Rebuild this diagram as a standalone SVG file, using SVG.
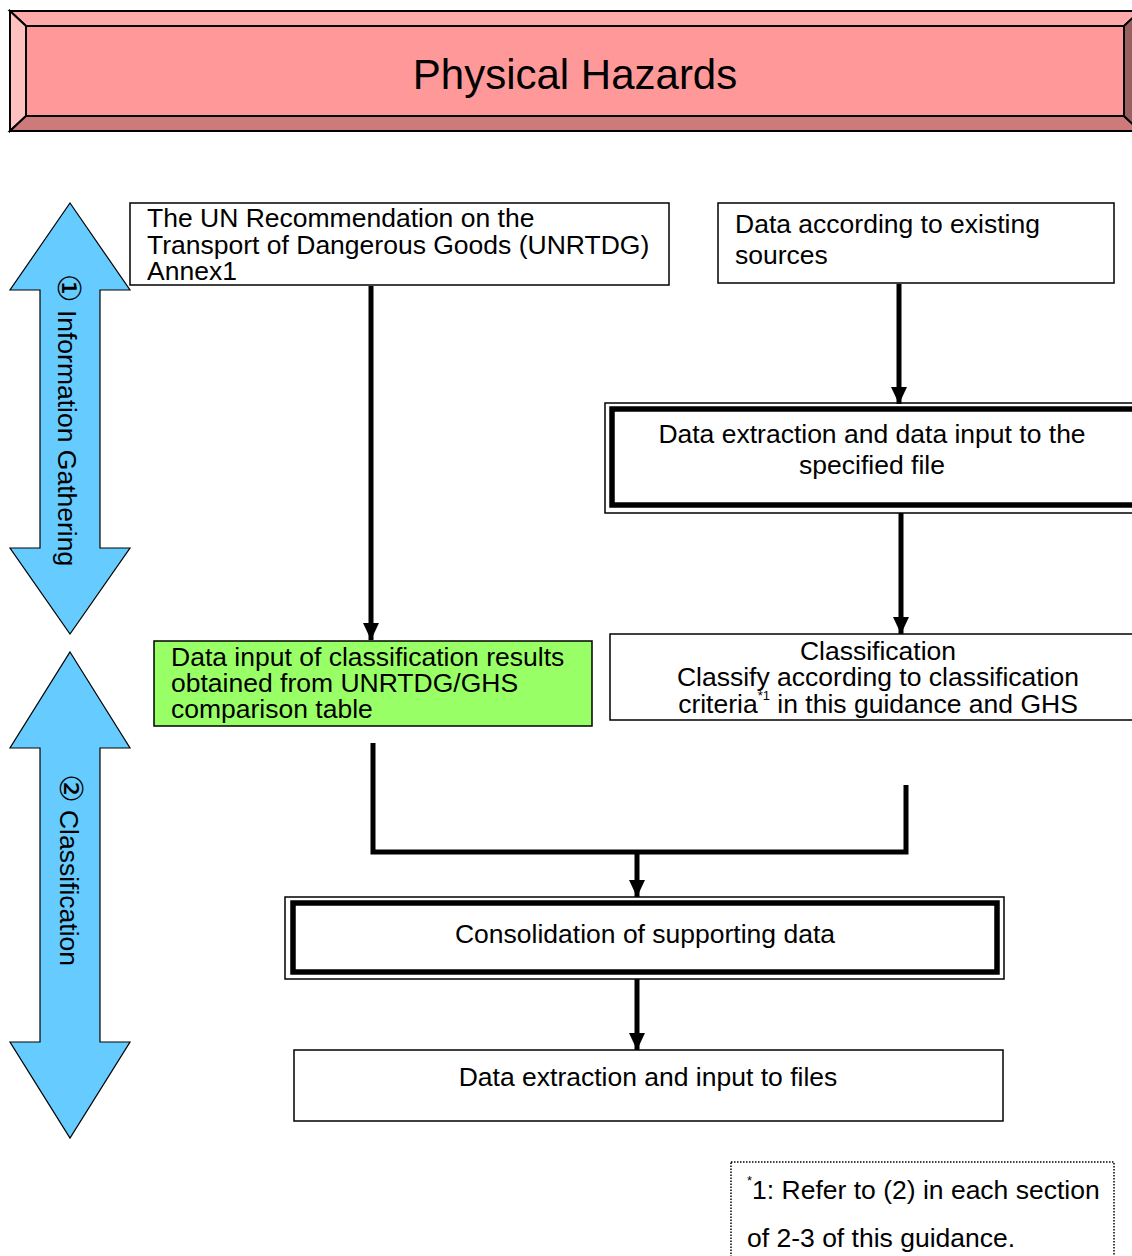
<svg xmlns="http://www.w3.org/2000/svg" width="1132" height="1256" viewBox="0 0 1132 1256">
  <defs>
    <style>
      text { font-family: "Liberation Sans", Arial, "Noto Sans CJK JP", sans-serif; font-size: 26.5px; fill: #000; }
      .box { fill: #fff; stroke: #000; stroke-width: 1.5; }
      .thin { fill: none; stroke: #000; stroke-width: 1.5; }
      .thick { fill: #fff; stroke: #000; stroke-width: 5.5; }
      .bevel { stroke: #000; stroke-width: 2; stroke-linejoin: miter; }
      .phase { fill: #66CCFF; stroke: #000; stroke-width: 1.2; }
      .wire { fill: none; stroke: #000; stroke-width: 5; stroke-linejoin: miter; stroke-linecap: butt; }
      .mid { text-anchor: middle; }
      .sup { font-size: 13px; }
      .num { font-family: "DejaVu Sans", "Noto Sans CJK JP", sans-serif; font-size: 32px; }
    </style>
    <!-- arrowhead drawn along +x so orient="auto" turns it with the line -->
    <marker id="head" viewBox="0 0 17 16" refX="17" refY="8" markerWidth="17" markerHeight="16" markerUnits="userSpaceOnUse" orient="auto">
      <path d="M0,0 L17,8 L0,16 Z" fill="#000"/>
    </marker>
  </defs>

  <!-- bevelled title banner -->
  <g id="title">
    <rect x="26" y="26" width="1098" height="90" fill="#FF9999" class="bevel"/>
    <polygon class="bevel" fill="#FFAAAA" points="10,11 1140,11 1124,26 26,26"/>
    <polygon class="bevel" fill="#FFC0C0" points="10,11 26,26 26,116 10,131"/>
    <polygon class="bevel" fill="#CC7A7A" points="10,131 26,116 1124,116 1140,131"/>
    <polygon class="bevel" fill="#996060" points="1140,11 1124,26 1124,116 1140,131"/>
    <text x="575" y="89" class="mid" style="font-size:42px">Physical Hazards</text>
  </g>

  <!-- phase arrows -->
  <g id="phase-info">
    <polygon class="phase" points="70,203 130,290 100,290 100,548 130,548 70,634 10,548 40,548 40,290 10,290"/>
    <text transform="translate(58,420) rotate(90)" class="mid"><tspan class="num">①</tspan> Information Gathering</text>
  </g>
  <g id="phase-class">
    <polygon class="phase" points="70,652 130,748 100,748 100,1042 130,1042 70,1138 10,1042 40,1042 40,748 10,748"/>
    <text transform="translate(60,870) rotate(90)" class="mid"><tspan class="num">②</tspan> Classification</text>
  </g>

  <!-- connectors -->
  <g id="connectors">
    <path class="wire" d="M371,286 V640" marker-end="url(#head)"/>
    <path class="wire" d="M899,284 V404" marker-end="url(#head)"/>
    <path class="wire" d="M901,513 V634" marker-end="url(#head)"/>
    <path class="wire" d="M373,743 V852 H906 V785"/>
    <path class="wire" d="M637,852 V897" marker-end="url(#head)"/>
    <path class="wire" d="M637,979 V1050" marker-end="url(#head)"/>
  </g>

  <g id="unrtdg">
    <rect class="box" x="130" y="203" width="539" height="82"/>
    <text x="147" y="227">The UN Recommendation on the</text>
    <text x="147" y="254">Transport of Dangerous Goods (UNRTDG)</text>
    <text x="147" y="280">Annex1</text>
  </g>

  <g id="existing-sources">
    <rect class="box" x="718" y="203" width="396" height="80"/>
    <text x="735" y="233">Data according to existing</text>
    <text x="735" y="264">sources</text>
  </g>

  <g id="extraction">
    <rect class="thin" x="605" y="403" width="540" height="110" fill="#fff"/>
    <rect class="thick" x="612" y="409" width="530" height="96"/>
    <text x="872" y="443" class="mid">Data extraction and data input to the</text>
    <text x="872" y="474" class="mid">specified file</text>
  </g>

  <g id="comparison-table">
    <rect class="box" x="154" y="641" width="438" height="85" style="fill:#99FF66"/>
    <text x="171" y="666">Data input of classification results</text>
    <text x="171" y="692">obtained from UNRTDG/GHS</text>
    <text x="171" y="718">comparison table</text>
  </g>

  <g id="classification">
    <rect class="box" x="610" y="634" width="535" height="86"/>
    <text x="878" y="660" class="mid">Classification</text>
    <text x="878" y="686" class="mid">Classify according to classification</text>
    <text x="878" y="713" class="mid">criteria<tspan class="sup" dy="-13">*1</tspan><tspan dy="13"> in this guidance and GHS</tspan></text>
  </g>

  <g id="consolidation">
    <rect class="thin" x="285" y="897" width="719" height="82" fill="#fff"/>
    <rect class="thick" x="293" y="903" width="704" height="69"/>
    <text x="645" y="943" class="mid">Consolidation of supporting data</text>
  </g>

  <g id="file-input">
    <rect class="box" x="294" y="1050" width="709" height="71"/>
    <text x="648" y="1086" class="mid">Data extraction and input to files</text>
  </g>

  <g id="footnote">
    <rect x="731" y="1162" width="383" height="110" fill="none" stroke="#000" stroke-width="1.5" stroke-dasharray="1.5 1.5"/>
    <text x="747" y="1199"><tspan class="sup" dy="-14">*</tspan><tspan dy="14">1: Refer to (2) in each section</tspan></text>
    <text x="747" y="1247">of 2-3 of this guidance.</text>
  </g>
</svg>
